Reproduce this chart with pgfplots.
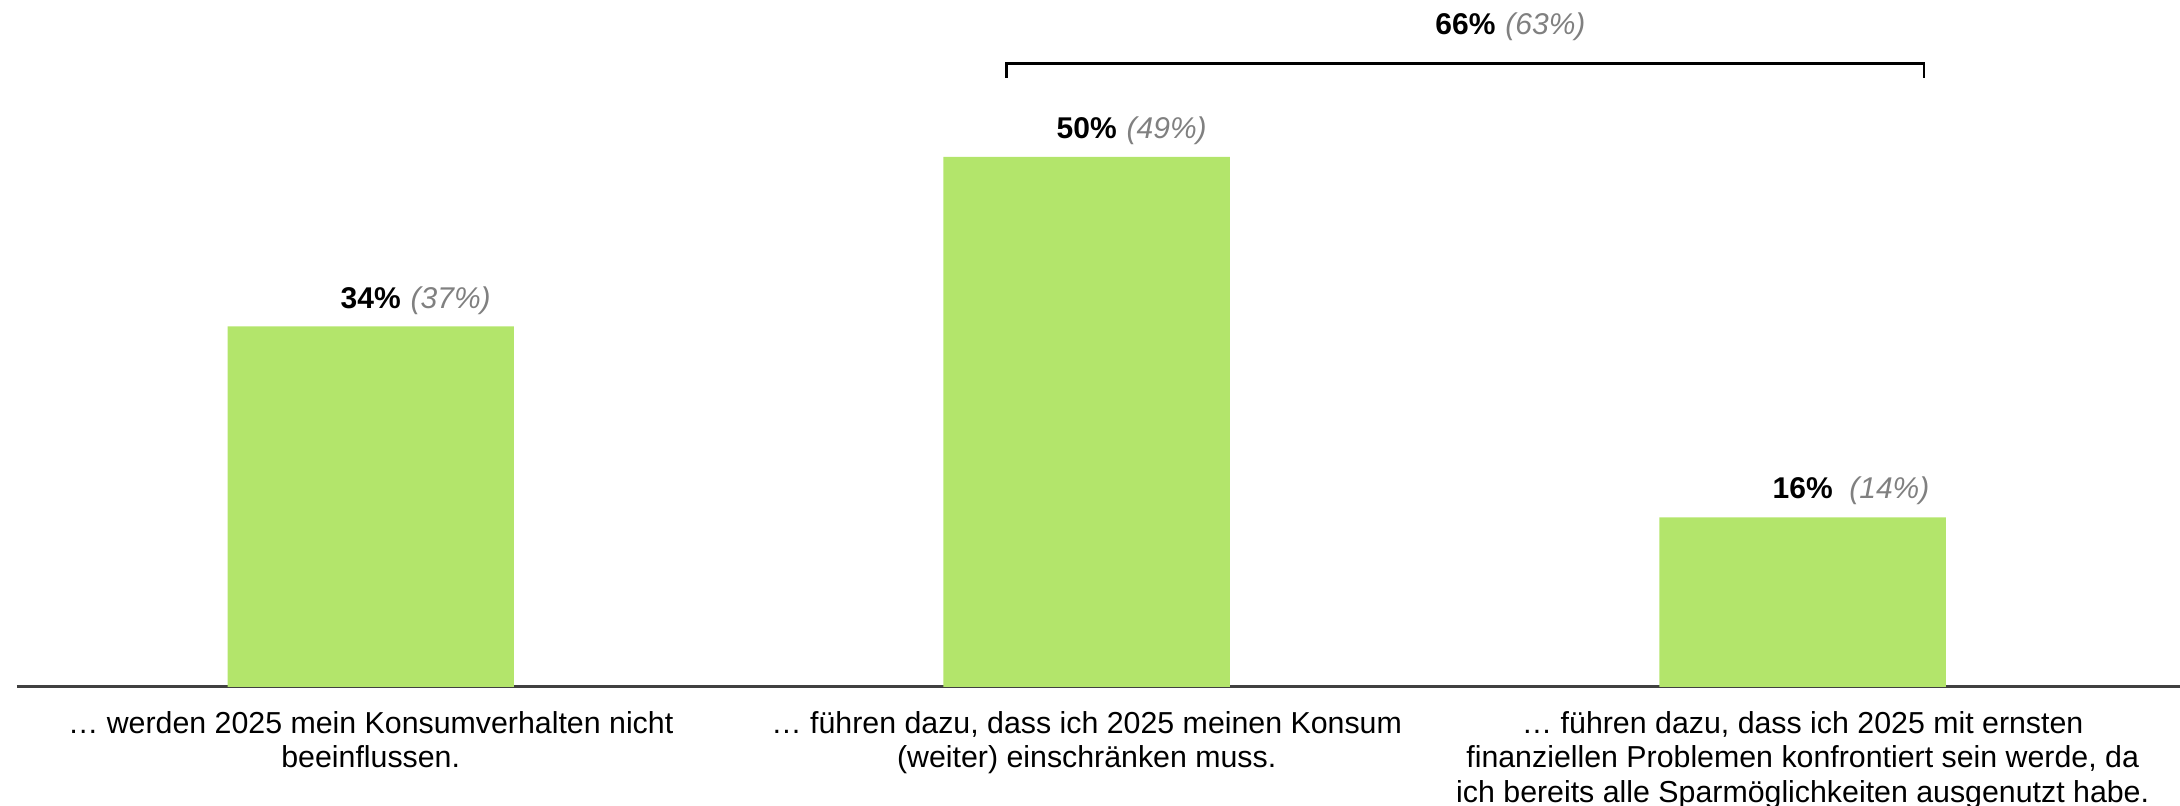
\documentclass[border=0pt]{standalone}
\usepackage{pgfplots}
\pgfplotsset{compat=1.18}
\usepackage{pgfplotstable}
\usepackage{fontspec}
\setmainfont{Liberation Sans}
\definecolor{bargreen}{RGB}{179,229,107}
\definecolor{notegray}{RGB}{128,128,128}
\definecolor{axisgray}{RGB}{64,64,64}

\pgfplotstableread[col sep=comma]{
x,share,label
0,34,{\textbf{34\%}\rlap{\hspace{3pt}\textcolor{notegray}{\itshape(37\%)}}}
1,50,{\textbf{50\%}\rlap{\hspace{3pt}\textcolor{notegray}{\itshape(49\%)}}}
2,16,{\textbf{16\%}\rlap{\hspace{5pt}\textcolor{notegray}{\itshape(14\%)}}}
}\shares

\begin{document}
\begin{tikzpicture}
\useasboundingbox (-5.1pt,-35.7pt) rectangle (649pt,206.1pt);
\begin{axis}[
  scale only axis,
  width=649pt, height=206.1pt,
  at={(0,0)}, anchor=south west,
  ybar, bar width=0.4,
  xmin=-0.494, xmax=2.527,
  ymin=0, ymax=64.8,
  axis x line=bottom, axis y line=none,
  x axis line style={-, draw=axisgray, line width=0.9pt},
  major tick length=0,
  xtick={0,1,2},
  xticklabels={
    {… werden 2025 mein Konsumverhalten nicht\\beeinflussen.},
    {… führen dazu, dass ich 2025 meinen Konsum\\(weiter) einschränken muss.},
    {… führen dazu, dass ich 2025 mit ernsten\\finanziellen Problemen konfrontiert sein werde, da\\ich bereits alle Sparmöglichkeiten ausgenutzt habe.}},
  xticklabel style={align=center, font=\fontsize{9.1}{10.3}\selectfont,
    anchor=north, inner sep=0pt, yshift=-7.2pt},
  ytick=\empty,
  nodes near coords,
  point meta=explicit symbolic,
  every node near coord/.append style={anchor=base, inner sep=0pt,
    yshift=5.5pt, font=\fontsize{9}{10}\selectfont},
  clip=false,
]
\addplot[fill=bargreen, draw=none] table[x=x, y=share, meta=label] {\shares};
\addplot[sharp plot, black, line width=0.7pt, nodes near coords={}, forget plot]
  coordinates {(0.888,57.45) (0.888,58.8) (2.169,58.8) (2.169,57.45)};
\node[anchor=base, inner sep=0pt, font=\fontsize{9}{10}\selectfont]
  at (axis cs:1.529,61.5)
  {\textbf{66\%}\rlap{\hspace{3pt}\textcolor{notegray}{\itshape(63\%)}}};
\end{axis}
\end{tikzpicture}
\end{document}
